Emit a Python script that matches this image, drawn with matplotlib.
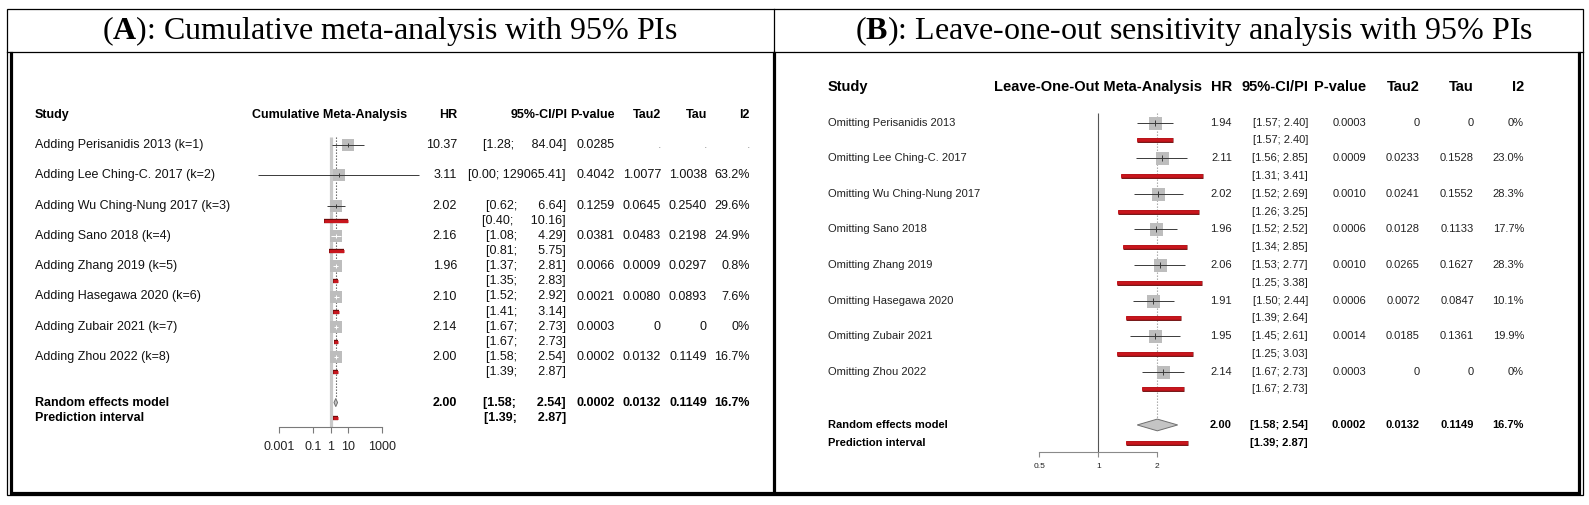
import numpy as np
import matplotlib
matplotlib.use("Agg")
import matplotlib.pyplot as plt
from matplotlib import transforms
from matplotlib.ticker import NullLocator
import matplotlib.patheffects as pe

plt.rcParams['font.family'] = ['Liberation Sans', 'DejaVu Sans']
plt.rcParams['mathtext.fontset'] = 'custom'
plt.rcParams['mathtext.rm'] = 'Liberation Serif'
plt.rcParams['mathtext.bf'] = 'Liberation Serif:bold'

# ---------------- data: panel A (cumulative) ----------------
labels_A = ["Adding Perisanidis 2013 (k=1)", "Adding Lee Ching-C. 2017 (k=2)",
            "Adding Wu Ching-Nung 2017 (k=3)", "Adding Sano 2018 (k=4)",
            "Adding Zhang 2019 (k=5)", "Adding Hasegawa 2020 (k=6)",
            "Adding Zubair 2021 (k=7)", "Adding Zhou 2022 (k=8)"]
hr_A = [10.37, 3.11, 2.02, 2.16, 1.96, 2.10, 2.14, 2.00]
ci_lo_A = [1.28, 0.00006, 0.62, 1.08, 1.37, 1.52, 1.67, 1.58]
ci_hi_A = [84.04, 129065.41, 6.64, 4.29, 2.81, 2.92, 2.73, 2.54]
pi_lo_A = [np.nan, np.nan, 0.40, 0.81, 1.35, 1.41, 1.67, 1.39]
pi_hi_A = [np.nan, np.nan, 10.16, 5.75, 2.83, 3.14, 2.73, 2.87]
pval_A = [0.0285, 0.4042, 0.1259, 0.0381, 0.0066, 0.0021, 0.0003, 0.0002]
tau2_A = [np.nan, 1.0077, 0.0645, 0.0483, 0.0009, 0.0080, 0, 0.0132]
tau_A = [np.nan, 1.0038, 0.2540, 0.2198, 0.0297, 0.0893, 0, 0.1149]
i2_A = [np.nan, 63.2, 29.6, 24.9, 0.8, 7.6, 0, 16.7]
ticks_A = [0.001, 0.1, 1, 10, 1000]
tick_labels_A = ["0.001", "0.1", "1", "10", "1000"]

# ---------------- data: panel B (leave-one-out) ----------------
labels_B = ["Omitting Perisanidis 2013", "Omitting Lee Ching-C. 2017",
            "Omitting Wu Ching-Nung 2017", "Omitting Sano 2018",
            "Omitting Zhang 2019", "Omitting Hasegawa 2020",
            "Omitting Zubair 2021", "Omitting Zhou 2022"]
hr_B = [1.94, 2.11, 2.02, 1.96, 2.06, 1.91, 1.95, 2.14]
ci_lo_B = [1.57, 1.56, 1.52, 1.52, 1.53, 1.50, 1.45, 1.67]
ci_hi_B = [2.40, 2.85, 2.69, 2.52, 2.77, 2.44, 2.61, 2.73]
pi_lo_B = [1.57, 1.31, 1.26, 1.34, 1.25, 1.39, 1.25, 1.67]
pi_hi_B = [2.40, 3.41, 3.25, 2.85, 3.38, 2.64, 3.03, 2.73]
pval_B = [0.0003, 0.0009, 0.0010, 0.0006, 0.0010, 0.0006, 0.0014, 0.0003]
tau2_B = [0, 0.0233, 0.0241, 0.0128, 0.0265, 0.0072, 0.0185, 0]
tau_B = [0, 0.1528, 0.1552, 0.1133, 0.1627, 0.0847, 0.1361, 0]
i2_B = [0, 23.0, 28.3, 17.7, 28.3, 10.1, 19.9, 0]
ticks_B = [0.5, 1, 2]
tick_labels_B = ["0.5", "1", "2"]

# ---------------- pooled random-effects model ----------------
pooled_hr = 2.00
pooled_ci_lo, pooled_ci_hi = 1.58, 2.54
pooled_pi_lo, pooled_pi_hi = 1.39, 2.87
pooled_p = 0.0002
pooled_tau2 = 0.0132
pooled_tau = 0.1149
pooled_i2 = 16.7

titles = [r"($\mathbf{A}$): Cumulative meta-analysis with 95% PIs",
          r"($\mathbf{B}$): Leave-one-out sensitivity analysis with 95% PIs"]
col_headers = ["HR", "95%-CI/PI", "P-value", "Tau2", "Tau", "I2"]

# ---------------- helpers ----------------
def f_tau(v):
    if np.isnan(v):
        return "."
    return "0" if v == 0 else f"{v:.4f}"

def f_i2(v):
    if np.isnan(v):
        return "."
    return "0%" if v == 0 else f"{v:.1f}%"

def ci_str(lo, hi, wl, wh):
    return "[" + f"{lo:.2f}".rjust(wl) + "; " + f"{hi:.2f}".rjust(wh) + "]"

W, H = 1589, 505
fig = plt.figure(figsize=(W / 100, H / 100), dpi=100)
bg = fig.add_axes([0, 0, 1, 1])
bg.set_xlim(0, W)
bg.set_ylim(H, 0)
bg.axis('off')

# table frame (thin) and panel frames (thick)
bg.add_patch(plt.Rectangle((7, 9), 1576, 486, fill=False, lw=0.9, ec='black'))
bg.plot([7, 1583], [52, 52], color='black', lw=0.9)
bg.plot([773.5, 773.5], [9, 52], color='black', lw=0.9)
bg.plot([11, 11, 1579, 1579], [53, 493, 493, 53], color='black', lw=2.3,
        solid_joinstyle='miter')
bg.plot([773.5, 773.5], [53, 493], color='black', lw=2.3)

bg.text(390, 31, titles[0], fontsize=23, family='Liberation Serif',
        ha='center', va='center')
bg.text(1194, 31, titles[1], fontsize=23, family='Liberation Serif',
        ha='center', va='center')


def make_forest(px0, px1, py0, py1, x1px, ppd, row0px, rowpx):
    ax = fig.add_axes([px0 / W, 1 - py1 / H, (px1 - px0) / W, (py1 - py0) / H])
    ax.set_xscale('log')
    ax.set_xlim(10 ** ((px0 - x1px) / ppd), 10 ** ((px1 - x1px) / ppd))
    ax.set_ylim((py1 - row0px) / rowpx, (py0 - row0px) / rowpx)
    ax.patch.set_visible(False)
    for s in ['top', 'right', 'left']:
        ax.spines[s].set_visible(False)
    ax.tick_params(left=False, labelleft=False)
    ax.xaxis.set_minor_locator(NullLocator())
    return ax


def draw_panel(ax, labels, hr, lo, hi, plo, phi, pv, t2, t, i2, ticks, tlabels,
               cfg):
    tr = transforms.blended_transform_factory(bg.transData, ax.transData)
    fs, hfs = cfg['fs'], cfg['hfs']
    cols = cfg['cols']
    axis_row = cfg['axis_row']

    def put(x, row, s, ha='right', **kw):
        kw.setdefault('fontsize', fs)
        ax.text(x, row, s, transform=tr, ha=ha, va='center', **kw)

    # widths for CI padding
    allv_lo = [v for v in list(lo) + list(plo) + [pooled_ci_lo, pooled_pi_lo] if not np.isnan(v)]
    allv_hi = [v for v in list(hi) + list(phi) + [pooled_ci_hi, pooled_pi_hi] if not np.isnan(v)]
    wl = max(len(f"{v:.2f}") for v in allv_lo)
    wh = max(len(f"{v:.2f}") for v in allv_hi)

    # headers
    put(cfg['study_x'], -2, "Study", ha='left', fontweight='bold', fontsize=hfs)
    put(cfg['forest_cx'], -2, cfg['forest_header'], ha='center', fontweight='bold', fontsize=hfs)
    for cx, h in zip(cols, col_headers):
        put(cx + cfg['hdr_dx'].get(h, 0), -2, h, fontweight='bold', fontsize=hfs)

    rows = np.arange(len(labels)) * 2
    half_dec = (cfg['sq_px'] / 2) / cfg['ppd']

    # reference lines
    ax.vlines(1, -0.55, axis_row, color=cfg['null_col'], lw=cfg['null_lw'], zorder=1)
    ax.vlines(pooled_hr, -0.55, 17 - cfg['dia_h'], color=cfg['dot_col'], lw=0.8,
              linestyles=(0, (1.2, 1.5)), zorder=1)

    # squares
    ax.scatter(hr, rows, marker='s', s=cfg['sq_s'], color='#bdbdbd', lw=0, zorder=3)
    for r, h_, l_, u_ in zip(rows, hr, lo, hi):
        inside = (np.log10(h_ / l_) < half_dec) and (np.log10(u_ / h_) < half_dec)
        c = 'white' if inside else cfg['ci_col']
        ax.hlines(r, l_, u_, color=c, lw=0.7, zorder=4)
        ax.plot([h_], [r], marker='|', ms=cfg['tick_ms'], mew=0.7, color=c, zorder=5)
    # prediction intervals
    red_fx = [pe.Stroke(linewidth=cfg['pi_lw'] + 0.9, foreground='#6e0a0a'), pe.Normal()]
    for r, l_, u_ in zip(rows + 1, plo, phi):
        if not np.isnan(l_):
            ax.hlines(r, l_, u_, color='#c8161d', lw=cfg['pi_lw'], zorder=4,
                      path_effects=red_fx, capstyle='butt')
    # pooled diamond and PI
    dh = cfg['dia_h']
    ax.fill([pooled_ci_lo, pooled_hr, pooled_ci_hi, pooled_hr],
            [17, 17 - dh, 17, 17 + dh], facecolor='#c4c4c4', edgecolor='#6f6f6f',
            lw=0.7, zorder=4)
    ax.hlines(18, pooled_pi_lo, pooled_pi_hi, color='#c8161d', lw=cfg['pi_lw'],
              zorder=4, path_effects=red_fx, capstyle='butt')

    # axis
    ax.spines['bottom'].set_position(('data', axis_row))
    ax.spines['bottom'].set_bounds(ticks[0], ticks[-1])
    ax.spines['bottom'].set_color(cfg['axis_col'])
    ax.spines['bottom'].set_linewidth(0.8)
    ax.set_xticks(ticks)
    ax.set_xticklabels(tlabels)
    ax.tick_params(axis='x', direction='out', length=cfg['tick_len'], width=0.8,
                   color=cfg['axis_col'], labelsize=cfg['tick_fs'], pad=cfg['tick_pad'],
                   labelcolor='#222222')

    # table text
    for k, r in enumerate(rows):
        put(cfg['study_x'], r, labels[k], ha='left', color=cfg['txt_col'])
        put(cols[0], r, f"{hr[k]:.2f}", color=cfg['txt_col'])
        put(cols[1], r, ci_str(lo[k], hi[k], wl, wh), color=cfg['txt_col'])
        if not np.isnan(plo[k]):
            put(cols[1], r + 1, ci_str(plo[k], phi[k], wl, wh), color=cfg['txt_col'])
        put(cols[2], r, f"{pv[k]:.4f}", color=cfg['txt_col'])
        for cx, s in zip(cols[3:], [f_tau(t2[k]), f_tau(t[k]), f_i2(i2[k])]):
            put(cx, r, s, color='#9a9a9a' if s == "." else cfg['txt_col'])
    # pooled rows
    put(cfg['study_x'], 17, "Random effects model", ha='left', fontweight='bold')
    put(cfg['study_x'], 18, "Prediction interval", ha='left', fontweight='bold')
    put(cols[0], 17, f"{pooled_hr:.2f}", fontweight='bold')
    put(cols[1], 17, ci_str(pooled_ci_lo, pooled_ci_hi, wl, wh), fontweight='bold')
    put(cols[1], 18, ci_str(pooled_pi_lo, pooled_pi_hi, wl, wh), fontweight='bold')
    put(cols[2], 17, f"{pooled_p:.4f}", fontweight='bold')
    put(cols[3], 17, f_tau(pooled_tau2), fontweight='bold')
    put(cols[4], 17, f_tau(pooled_tau), fontweight='bold')
    put(cols[5], 17, f_i2(pooled_i2), fontweight='bold')


# ---------------- panel A ----------------
rowA0, rowAh = 145.0, 15.15
axA = make_forest(250, 425, 95, 465, 330.6, 17.2, rowA0, rowAh)
cfgA = dict(fs=9, hfs=9, cols=[457, 566, 615, 661, 707, 750], hdr_dx={"95%-CI/PI": 2},
            study_x=35, forest_cx=330, forest_header="Cumulative Meta-Analysis",
            axis_row=(427 - rowA0) / rowAh, sq_px=11.5, ppd=17.2, sq_s=(11.5 * 0.72) ** 2,
            null_col='#c9c9c9', null_lw=2.3, dot_col='#555555', dia_h=0.27,
            ci_col='#3a3a3a', tick_ms=3.0, pi_lw=2.2, axis_col='#7a7a7a',
            tick_len=4.3, tick_fs=9, tick_pad=6.0, txt_col='#111111')
draw_panel(axA, labels_A, hr_A, ci_lo_A, ci_hi_A, pi_lo_A, pi_hi_A, pval_A, tau2_A,
           tau_A, i2_A, ticks_A, tick_labels_A, cfgA)

# ---------------- panel B ----------------
rowB0, rowBh = 122.7, 17.78
axB = make_forest(1000, 1230, 70, 490, 1098.3, 196.0, rowB0, rowBh)
cfgB = dict(fs=8, hfs=10.5, cols=[1232, 1308, 1366, 1420, 1474, 1524], hdr_dx={},
            study_x=828, forest_cx=1098, forest_header="Leave-One-Out Meta-Analysis",
            axis_row=(452 - rowB0) / rowBh, sq_px=13, ppd=196.0, sq_s=(13 * 0.72) ** 2,
            null_col='#555555', null_lw=0.8, dot_col='#a0a0a0', dia_h=0.33,
            ci_col='#3a3a3a', tick_ms=4.0, pi_lw=2.6, axis_col='#8a8a8a',
            tick_len=3.6, tick_fs=6, tick_pad=4.0, txt_col='#222222')
draw_panel(axB, labels_B, hr_B, ci_lo_B, ci_hi_B, pi_lo_B, pi_hi_B, pval_B, tau2_B,
           tau_B, i2_B, ticks_B, tick_labels_B, cfgB)

fig.savefig("out.png", dpi=100)
